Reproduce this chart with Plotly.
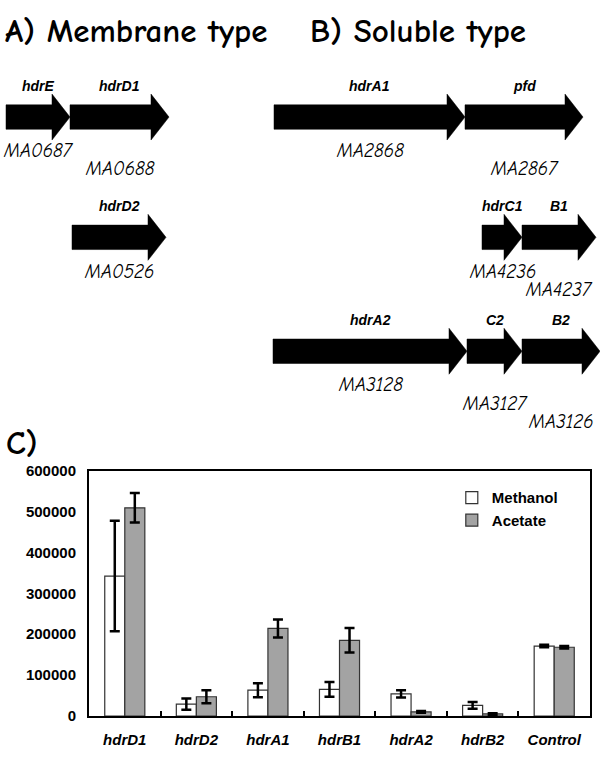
import plotly.graph_objects as go

# ---- panel C: expression levels ----
genes_c = ['hdrD1', 'hdrD2', 'hdrA1', 'hdrB1', 'hdrA2', 'hdrB2', 'Control']
methanol = [342000, 29000, 63000, 65000, 54000, 26000, 171000]
methanol_err = [135000, 14000, 17000, 18000, 9000, 8000, 3000]
acetate = [509000, 47000, 214000, 185000, 10000, 5000, 168000]
acetate_err = [36000, 16000, 22000, 30000, 2000, 2000, 3000]
y_ticks = [0, 100000, 200000, 300000, 400000, 500000, 600000]

# ---- panels A/B: gene maps (map units) ----
gene_names = ['hdrE', 'hdrD1', 'hdrD2', 'hdrA1', 'pfd', 'hdrC1', 'B1', 'hdrA2', 'C2', 'B2']
gene_ids = ['MA0687', 'MA0688', 'MA0526', 'MA2868', 'MA2867', 'MA4236', 'MA4237',
            'MA3128', 'MA3127', 'MA3126']
gene_start = [6, 70, 72, 274, 465, 482, 522, 273, 467, 522]
gene_end = [70, 169, 166, 465, 583, 522, 596, 467, 522, 600]
gene_row = [0, 0, 1, 0, 0, 1, 1, 2, 2, 2]
id_level = [0, 1, 0, 0, 1, 0, 1, 0, 1, 2]

comic = 'Comic Sans MS, Comic Neue, Lato, sans-serif'
arial = 'Arial, Liberation Sans, sans-serif'

fig = go.Figure()

# gene arrows
row_y = [110.5, 233.5, 350]
body_h, head_h, head_len = 12.5, 23.5, 18
for name, gid, s, e, r, lv in zip(gene_names, gene_ids, gene_start, gene_end, gene_row, id_level):
    yc = row_y[r]
    hb = e - head_len
    xs = [s, hb, hb, e, hb, hb, s, s]
    ys = [yc - body_h, yc - body_h, yc - head_h, yc, yc + head_h, yc + body_h, yc + body_h, yc - body_h]
    fig.add_trace(go.Scatter(x=xs, y=ys, fill='toself', fillcolor='black', mode='lines',
                             line=dict(color='black', width=0.5), showlegend=False,
                             hoverinfo='skip', xaxis='x2', yaxis='y2'))
    fig.add_annotation(x=(s + e) / 2, y=yc - 32, xref='x2', yref='y2', showarrow=False,
                       text='<b><i>' + name + '</i></b>', font=dict(family=arial, size=14, color='black'))
    fig.add_annotation(x=(s + e) / 2, y=yc + 35 + 18.5 * lv, xref='x2', yref='y2', showarrow=False,
                       text='<i>' + gid + '</i>', font=dict(family=comic, size=19, color='black'))

# panel titles
for txt, xp, yp in [('A) Membrane type', 3, 23), ('B) Soluble type', 308, 23), ('C)', 4, 444)]:
    fig.add_annotation(x=xp, y=yp, xref='x2', yref='y2', xanchor='left', showarrow=False,
                       text='<b>' + txt + '</b>', font=dict(family=comic, size=33, color='black'))

# bars
fig.add_trace(go.Bar(x=genes_c, y=methanol, name='Methanol', marker_color='white',
                     marker_line=dict(color='#333333', width=1.2),
                     error_y=dict(type='data', array=methanol_err, color='black', thickness=2.5, width=5)))
fig.add_trace(go.Bar(x=genes_c, y=acetate, name='Acetate', marker_color='#a3a3a3',
                     marker_line=dict(color='#333333', width=1.2),
                     error_y=dict(type='data', array=acetate_err, color='black', thickness=2.5, width=5)))

fig.update_layout(
    width=600, height=768,
    margin=dict(l=0, r=0, t=0, b=0),
    paper_bgcolor='white', plot_bgcolor='rgba(0,0,0,0)',
    barmode='group', bargap=0.44, bargroupgap=0,
    xaxis=dict(domain=[89 / 600, 590 / 600], anchor='y', showline=True, linecolor='black',
               linewidth=2, mirror=True, ticks='inside', ticklen=5, tickwidth=2, tickcolor='black',
               tickson='boundaries', showgrid=False,
               tickfont=dict(family=arial, size=15, color='black', weight='bold', style='italic'),
               ticklabelstandoff=9),
    yaxis=dict(domain=[45 / 768, 296 / 768], anchor='x', range=[0, 600000], tickvals=y_ticks,
               tickformat='d', showline=True, linecolor='black', linewidth=2, mirror=True,
               ticks='', showgrid=False, zeroline=False,
               tickfont=dict(family=arial, size=15, color='black', weight='bold'),
               ticklabelstandoff=8),
    xaxis2=dict(domain=[0, 1], anchor='y2', range=[0, 600], visible=False, fixedrange=True),
    yaxis2=dict(domain=[0, 1], anchor='x2', range=[768, 0], visible=False, fixedrange=True),
    legend=dict(x=0.753, y=0.371, xanchor='left', yanchor='top', bgcolor='rgba(0,0,0,0)',
                font=dict(family=arial, size=15, color='black', weight='bold'),
                itemwidth=30, tracegroupgap=4),
    showlegend=True,
)

fig.write_html('out.html', config={'displayModeBar': False},
               post_script="document.body.style.margin='0px';")
